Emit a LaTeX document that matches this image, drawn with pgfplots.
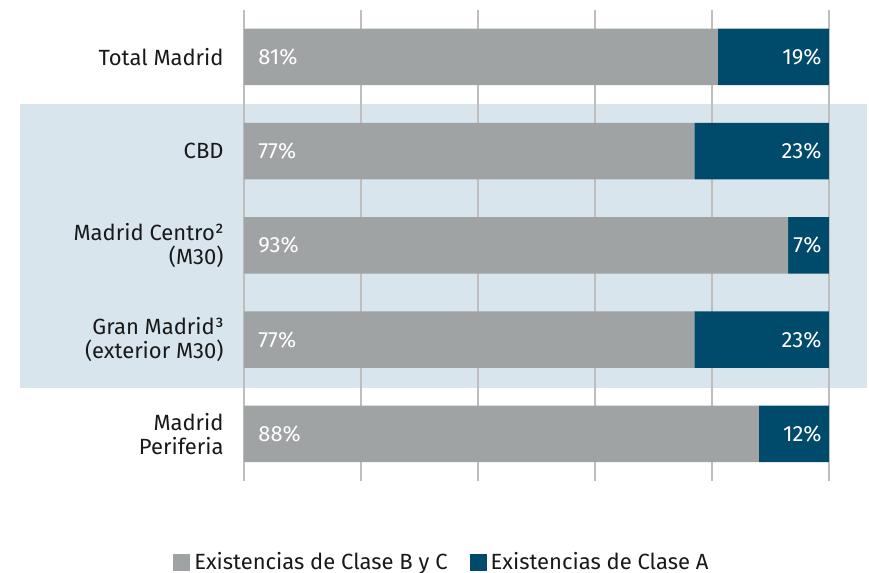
\documentclass[border=0pt]{standalone}
\usepackage{pgfplots}
\pgfplotsset{compat=1.18}
\usepackage{fontspec}
\setmainfont{Fira Sans}
\definecolor{cgray}{HTML}{A0A3A4}
\definecolor{cblue}{HTML}{004A6B}
\definecolor{bandc}{HTML}{D9E5ED}
\definecolor{gridc}{HTML}{BEBEBE}
\pgfplotstableread{
y bc a
0 81 19
1 77 23
2 93 7
3 77 23
4 88 12
}\datatable
\begin{document}
\begin{tikzpicture}
\fill[bandc] (-112pt,46.5pt) rectangle (311.5pt,188.5pt);
\begin{axis}[
  at={(0pt,0pt)}, anchor=south west,
  clip=false,
  scale only axis, width=292.5pt, height=235.5pt,
  xbar stacked, bar width=0.6,
  xmin=0, xmax=100, ymin=-0.5, ymax=4.5, y dir=reverse,
  axis line style={draw=none},
  major tick length=0pt,
  xtick={0,20,...,100}, xticklabels={},
  xmajorgrids, grid style={gridc, line width=0.8pt},
  ytick={0,1,2,3,4},
  yticklabels={Total Madrid, CBD, {Madrid Centro²\\(M30)}, {Gran Madrid³\\(exterior M30)}, {Madrid\\Periferia}},
  yticklabel style={align=right, inner sep=0pt, xshift=-10pt, font=\fontsize{11}{12}\selectfont, text=black!90},
  legend style={at={(0.34,-0.174)}, anchor=center, legend columns=2, draw=none, fill=none,
    font=\fontsize{11}{13}\selectfont, text=black!90,
    /tikz/every even column/.append style={column sep=9pt}},
  legend image code/.code={\fill[#1] (0pt,-4.25pt) rectangle (8.5pt,4.25pt);},
]
% stacked-bar labels sit at the middle of each segment; shift them to the segment edges
\addplot[fill=cgray, draw=none, point meta=explicit symbolic,
  nodes near coords={\pgfplotspointmeta\%},
  visualization depends on={\thisrow{bc} \as \bv},
  every node near coord/.append style={anchor=west, inner sep=0pt, xshift={7pt-\bv*1.4625pt}, text=white, font=\fontsize{11}{13}\selectfont}]
  table[x=bc, y=y, meta=bc] {\datatable};
\addplot[fill=cblue, draw=none, point meta=explicit symbolic,
  nodes near coords={\pgfplotspointmeta\%},
  visualization depends on={\thisrow{a} \as \av},
  every node near coord/.append style={anchor=east, inner sep=0pt, xshift={\av*1.4625pt-3.5pt}, text=white, font=\fontsize{11}{13}\selectfont}]
  table[x=a, y=y, meta=a] {\datatable};
\legend{Existencias de Clase B y C, Existencias de Clase A}
\coordinate (bbA) at (axis cs:-41.71,-0.605);
\coordinate (bbB) at (axis cs:106.84,5.475);
\end{axis}
\pgfresetboundingbox
\path (bbA) rectangle (bbB);
\end{tikzpicture}
\end{document}
